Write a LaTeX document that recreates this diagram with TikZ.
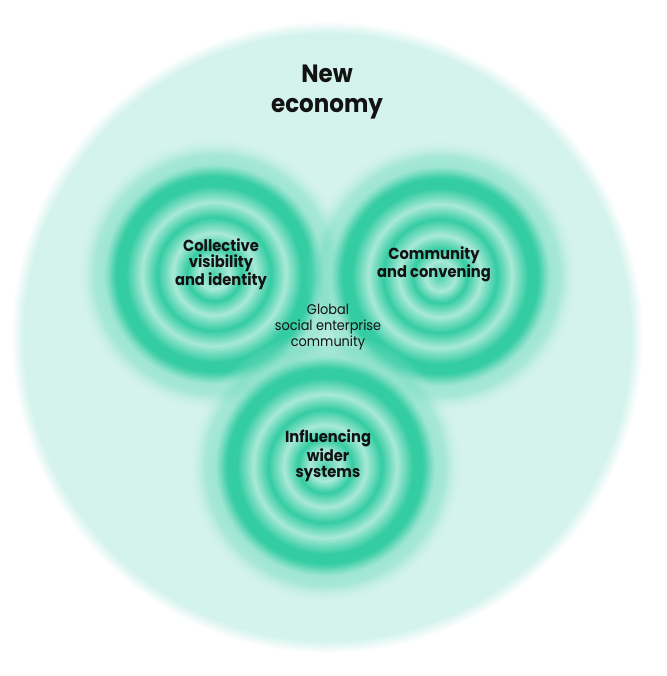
\documentclass[tikz,border=0pt]{standalone}
\usepackage{fontspec}
\setmainfont{Poppins}[FakeStretch=0.92]
\usetikzlibrary{fadings}
\definecolor{mintbg}{HTML}{D4F3EC}
\definecolor{ringdark}{HTML}{34CCA3}
\definecolor{ringmid}{HTML}{72DBBF}
\definecolor{ringlight}{HTML}{A9E9D7}
\colorlet{labelcol}{black!93}
% outer disc, soft rim
\pgfdeclareradialshading{economy}{\pgfpoint{0bp}{0bp}}{%
  color(0bp)=(mintbg); color(24bp)=(mintbg); color(25bp)=(white); color(50bp)=(white)}
% concentric ripples (25bp = rim)
\pgfdeclareradialshading{ripple}{\pgfpoint{0bp}{0bp}}{%
  color(0bp)=(ringdark!80!ringlight); color(2.8bp)=(ringlight);
  color(5bp)=(ringdark); color(7.6bp)=(ringlight);
  color(10.5bp)=(ringdark); color(13.3bp)=(ringlight);
  color(16.3bp)=(ringdark); color(18bp)=(ringdark); color(20.4bp)=(ringmid!50!ringlight);
  color(22.3bp)=(ringmid); color(25bp)=(ringlight!60!mintbg); color(50bp)=(mintbg)}
\pgfdeclareradialshading{ripplemask}{\pgfpoint{0bp}{0bp}}{%
  color(0bp)=(pgftransparent!0); color(18.5bp)=(pgftransparent!0);
  color(25bp)=(pgftransparent!100); color(50bp)=(pgftransparent!100)}
\pgfdeclarefading{ripplefade}{\pgfuseshading{ripplemask}}
\tikzstyle{ripplefill}=[shading=ripple,path fading=ripplefade]
\tikzstyle{pillar}=[align=center,text=labelcol,font=\bfseries\fontsize{16}{16.5}\selectfont]

\begin{document}
\begin{tikzpicture}[x=1pt,y=-1pt]
  \useasboundingbox (0,0) rectangle (666,676);
  \coordinate (O) at (327,337);
  \coordinate (L) at (214,274);
  \coordinate (R) at (440,276);
  \coordinate (B) at (325,466);
  % New economy
  \path[shading=economy] (O) circle (316pt);
  % Ripples
  \foreach \c in {L,R,B}
    \path[ripplefill] (\c) circle (135pt);
  \node[align=center,text=labelcol,font=\bfseries\fontsize{25}{30}\selectfont]
    (title) at (327,92) {New\\economy};
  \node[pillar] (visibility) at (221,264) {Collective\\visibility\\and identity};
  \node[pillar] (convening) at (434,264) {Community\\and convening};
  \node[pillar] (systems) at (328,456) {Influencing\\wider\\systems};
  \node[align=center,text=labelcol,font=\fontsize{14}{16}\selectfont]
    (community) at (328,327) {Global\\social enterprise\\community};
\end{tikzpicture}
\end{document}
